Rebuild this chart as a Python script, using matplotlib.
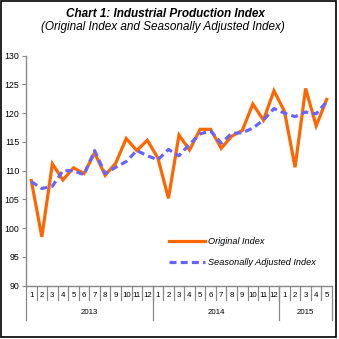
import numpy as np
import matplotlib
matplotlib.use("Agg")
import matplotlib.pyplot as plt
from matplotlib.patches import Rectangle

plt.rcParams["font.family"] = ["Liberation Sans", "DejaVu Sans"]

years = ["2013", "2014", "2015"]
months_per_year = [12, 12, 5]
original = [108.3, 98.5, 111.2, 108.4, 110.5, 109.5, 113.1, 109.2, 111.3, 115.6, 113.5, 115.3,
            112.2, 105.2, 116.2, 113.6, 117.2, 117.2, 113.9, 116.0, 117.0, 121.6, 118.8, 123.9,
            120.3, 110.6, 124.3, 117.8, 122.4]
adjusted = [108.1, 106.9, 107.3, 110.0, 110.0, 109.3, 113.5, 109.5, 110.6, 111.6, 113.5, 112.6,
            111.9, 113.7, 112.6, 114.6, 116.4, 116.9, 114.8, 116.5, 116.6, 117.4, 118.8, 120.8,
            120.0, 119.4, 120.2, 119.9, 122.0]

month_labels = [str(m) for n in months_per_year for m in range(1, n + 1)]
x = np.arange(len(original))

fig = plt.figure(figsize=(3.39, 3.39), dpi=100)
ax = fig.add_axes([26 / 339, 1 - 285.7 / 339, 306 / 339, 230 / 339])

ax.plot(x, original, color="#FF6600", lw=2.3, label="Original Index", solid_joinstyle="miter")
ax.plot(x, adjusted, color="#6666FF", lw=2.3, ls=(0, (2.2, 1.3)), label="Seasonally Adjusted Index")

ax.set_xlim(-0.5, len(x) - 0.5)
ax.set_ylim(90, 130)
ax.set_yticks(np.arange(90, 131, 5))
ax.tick_params(axis="y", labelsize=6.3, length=3, color="#888888", pad=2)
ax.set_xticks([])
for s in ["top", "right"]:
    ax.spines[s].set_visible(False)
for s in ["left", "bottom"]:
    ax.spines[s].set_color("#888888")
    ax.spines[s].set_linewidth(1)

# multi-level category axis
trans = ax.get_xaxis_transform()
for i, lab in enumerate(month_labels):
    ax.text(i, -0.043, lab, transform=trans, ha="center", va="center", fontsize=5.7)
for b in range(1, len(x)):
    ax.plot([b - 0.5, b - 0.5], [0, -0.062], transform=trans, color="#888888", lw=0.9, clip_on=False)
bounds = np.concatenate([[0], np.cumsum(months_per_year)]) - 0.5
for b in bounds:
    ax.plot([b, b], [0, -0.15], transform=trans, color="#888888", lw=0.9, clip_on=False)
for yr, a, c in zip(years, bounds[:-1], bounds[1:]):
    ax.text((a + c) / 2, -0.118, yr, transform=trans, ha="center", va="center", fontsize=5.7)

leg = ax.legend(loc="lower left", bbox_to_anchor=(0.44, 0.045), frameon=False,
                prop={"size": 6.6, "style": "italic"}, handlelength=3.9, handletextpad=0.35,
                labelspacing=1.35)

fig.text(165 / 339, 1 - 14 / 339, "Chart 1: Industrial Production Index", ha="center", va="center",
         fontsize=8.5, fontweight="bold", style="italic")
fig.text(163 / 339, 1 - 27 / 339, "(Original Index and Seasonally Adjusted Index)", ha="center",
         va="center", fontsize=8.5, style="italic")

fig.patches.append(Rectangle((1 / 339, 2 / 339), 335 / 339, 336 / 339, transform=fig.transFigure,
                             fill=False, edgecolor="black", lw=1.2))

fig.savefig("out.png", dpi=100)
